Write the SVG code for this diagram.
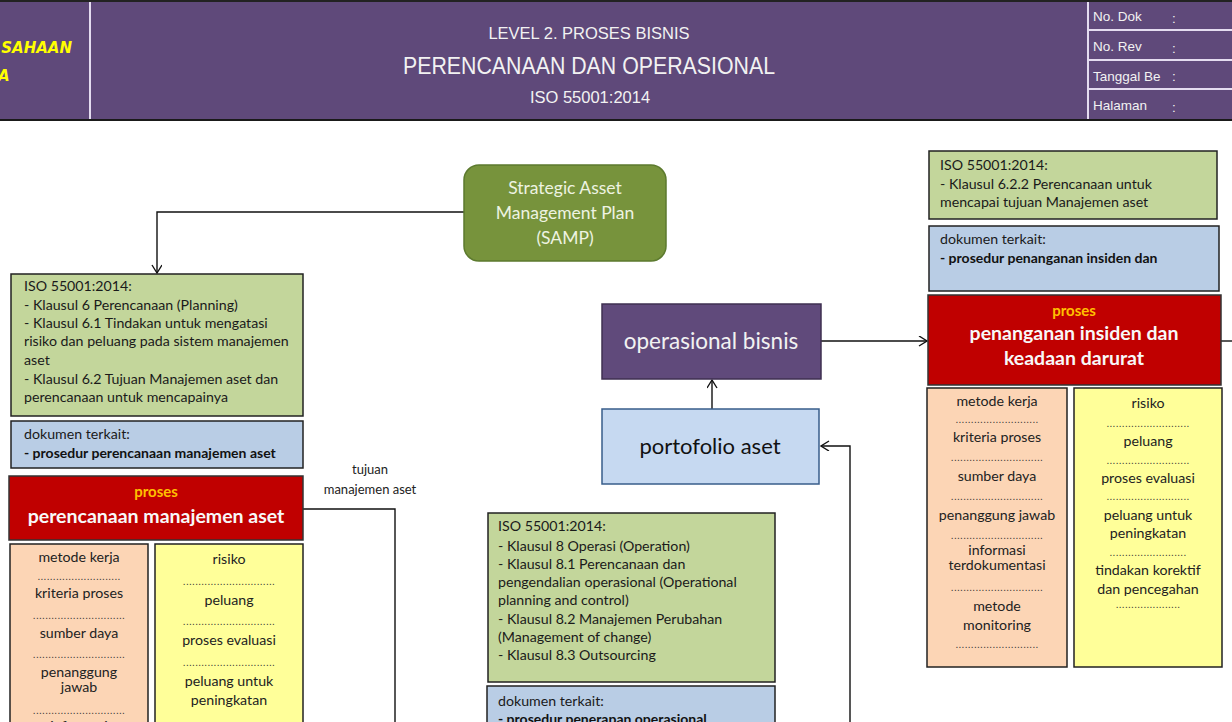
<svg xmlns="http://www.w3.org/2000/svg" width="1232" height="722" viewBox="0 0 1232 722">
<defs>
<marker id="arr" markerWidth="12" markerHeight="12" refX="9" refY="5" orient="auto" markerUnits="userSpaceOnUse">
<path d="M1,0 L9,5 L1,10" fill="none" stroke="#111" stroke-width="1.4"/>
</marker>
<style>
.hdr{font-family:"Liberation Sans",Arial,sans-serif;fill:#F2F2F2}
.t{font-family:Lato,"Liberation Sans",sans-serif;font-size:14.2px;fill:#1a1a1a}
.tb{font-family:Lato,"Liberation Sans",sans-serif;font-size:14px;font-weight:bold;fill:#111}
.c{font-family:Lato,"Liberation Sans",sans-serif;font-size:14.2px;fill:#222;text-anchor:middle}
.dots{font-family:"Liberation Sans",sans-serif;font-size:10px;fill:#333;text-anchor:middle;letter-spacing:0.3px}
.pr{font-family:Lato,"Liberation Sans",sans-serif;font-size:15px;font-weight:bold;fill:#FFC000;text-anchor:middle}
.pt{font-family:Lato,"Liberation Sans",sans-serif;font-size:19.5px;font-weight:bold;fill:#F8F8F8;text-anchor:middle}
.green{fill:#C3D69B;stroke:#222;stroke-width:1.5}
.blue{fill:#B9CDE5;stroke:#222;stroke-width:1.5}
.red{fill:#C00000;stroke:#333;stroke-width:1.5}
.peach{fill:#FCD5B5;stroke:#222;stroke-width:1.5}
.yel{fill:#FFFF99;stroke:#222;stroke-width:1.5}
.conn{fill:none;stroke:#111;stroke-width:1.4}
</style>
</defs>
<rect x="0" y="0" width="1232" height="722" fill="#FFFFFF"/>

<g id="header">
<rect x="0" y="0" width="1232" height="120" fill="#5F497A"/>
<line x1="0" y1="1" x2="1232" y2="1" stroke="#222" stroke-width="2"/>
<line x1="0" y1="120" x2="1232" y2="120" stroke="#1a1a1a" stroke-width="2"/>
<line x1="90" y1="2" x2="90" y2="119" stroke="#E4DCF0" stroke-width="2"/>
<line x1="1088" y1="2" x2="1088" y2="119" stroke="#E4DCF0" stroke-width="2"/>
<line x1="1088" y1="30" x2="1232" y2="30" stroke="#E4DCF0" stroke-width="2"/>
<line x1="1088" y1="60" x2="1232" y2="60" stroke="#E4DCF0" stroke-width="2"/>
<line x1="1088" y1="89" x2="1232" y2="89" stroke="#E4DCF0" stroke-width="2"/>
<text x="72" y="53" text-anchor="end" style="font-family:'DejaVu Sans',sans-serif;font-size:15px;font-weight:bold;font-style:italic;fill:#FFFF00">SAHAAN</text>
<text x="-2" y="81" style="font-family:'DejaVu Sans',sans-serif;font-size:15px;font-weight:bold;font-style:italic;fill:#FFFF00">A</text>
<text class="hdr" x="589" y="39" text-anchor="middle" font-size="16.5">LEVEL 2. PROSES BISNIS</text>
<text class="hdr" x="589" y="74" text-anchor="middle" font-size="23" textLength="372" lengthAdjust="spacingAndGlyphs">PERENCANAAN DAN OPERASIONAL</text>
<text class="hdr" x="590" y="103" text-anchor="middle" font-size="16.5">ISO 55001:2014</text>
<g class="hdr" font-size="13.5">
<text x="1093" y="21">No. Dok</text><text x="1172" y="23">:</text>
<text x="1093" y="51">No. Rev</text><text x="1172" y="53">:</text>
<text x="1093" y="81">Tanggal Be</text><text x="1172" y="81">:</text>
<text x="1093" y="110">Halaman</text><text x="1172" y="112">:</text>
</g>
</g>

<g id="connectors">
<path class="conn" d="M464,212 H157 V273" marker-end="url(#arr)"/>
<path class="conn" d="M712,409 V380" marker-end="url(#arr)"/>
<path class="conn" d="M821,341 H927" marker-end="url(#arr)"/>
<path class="conn" d="M1221,341 H1232"/>
<path class="conn" d="M303,509 H395 V722"/>
<path class="conn" d="M850,722 V446 H821" marker-end="url(#arr)"/>
</g>

<g id="samp">
<rect x="464" y="165" width="202" height="96" rx="15" fill="#77933C" stroke="#5C7A2E" stroke-width="1.5"/>
<g style="font-family:Lato,'Liberation Sans',sans-serif;font-size:17.5px;fill:#EEF3E2;text-anchor:middle">
<text x="565" y="194">Strategic Asset</text>
<text x="565" y="219">Management Plan</text>
<text x="565" y="244">(SAMP)</text>
</g>
</g>

<g id="operasional-bisnis">
<rect x="602" y="304" width="219" height="75" fill="#604A7B" stroke="#3F3151" stroke-width="1.5"/>
<text x="711" y="349" style="font-family:Lato,'Liberation Sans',sans-serif;font-size:22.5px;fill:#F2F2F2;text-anchor:middle">operasional bisnis</text>
</g>

<g id="portofolio-aset">
<rect x="602" y="409" width="217" height="75" fill="#C6D9F1" stroke="#385D8A" stroke-width="1.5"/>
<text x="710" y="454" style="font-family:Lato,'Liberation Sans',sans-serif;font-size:22px;fill:#111;text-anchor:middle">portofolio aset</text>
</g>

<g id="left-iso">
<rect class="green" x="11" y="274" width="292" height="142"/>
<text class="t" x="24" y="291">ISO 55001:2014:</text>
<text class="t" x="24" y="310">- Klausul 6 Perencanaan (Planning)</text>
<text class="t" x="24" y="328">- Klausul 6.1 Tindakan untuk mengatasi</text>
<text class="t" x="24" y="346">risiko dan peluang pada sistem manajemen</text>
<text class="t" x="24" y="365">aset</text>
<text class="t" x="24" y="384">- Klausul 6.2 Tujuan Manajemen aset dan</text>
<text class="t" x="24" y="402">perencanaan untuk mencapainya</text>
</g>

<g id="left-dok">
<rect class="blue" x="11" y="421" width="292" height="47"/>
<text class="t" x="24" y="439">dokumen terkait:</text>
<text class="tb" x="24" y="458">- prosedur perencanaan manajemen aset</text>
</g>

<g id="left-proses">
<rect class="red" x="9" y="476" width="294" height="64"/>
<text class="pr" x="156" y="497">proses</text>
<text class="pt" x="156" y="523">perencanaan manajemen aset</text>
</g>

<g id="left-label">
<text class="c" x="370" y="474" style="font-size:13px">tujuan</text>
<text class="c" x="370" y="494" style="font-size:13px">manajemen aset</text>
</g>

<g id="left-peach">
<rect class="peach" x="10" y="544" width="138" height="190"/>
<text class="c" x="79" y="562">metode kerja</text>
<text class="dots" x="79" y="580">...........................</text>
<text class="c" x="79" y="598">kriteria proses</text>
<text class="dots" x="79" y="619">..............................</text>
<text class="c" x="79" y="638">sumber daya</text>
<text class="dots" x="79" y="658">..............................</text>
<text class="c" x="79" y="677">penanggung</text>
<text class="c" x="79" y="692">jawab</text>
<text class="dots" x="79" y="714">..............................</text>
<text class="c" x="79" y="731">informasi</text>
</g>

<g id="left-yellow">
<rect class="yel" x="155" y="544" width="148" height="190"/>
<text class="c" x="229" y="564">risiko</text>
<text class="dots" x="229" y="585">..............................</text>
<text class="c" x="229" y="605">peluang</text>
<text class="dots" x="229" y="625">..............................</text>
<text class="c" x="229" y="645">proses evaluasi</text>
<text class="dots" x="229" y="666">..............................</text>
<text class="c" x="229" y="686">peluang untuk</text>
<text class="c" x="229" y="705">peningkatan</text>
</g>

<g id="mid-iso">
<rect class="green" x="488" y="513" width="287" height="169"/>
<text class="t" x="498" y="531">ISO 55001:2014:</text>
<text class="t" x="498" y="551">- Klausul 8 Operasi (Operation)</text>
<text class="t" x="498" y="569">- Klausul 8.1 Perencanaan dan</text>
<text class="t" x="498" y="587">pengendalian operasional (Operational</text>
<text class="t" x="498" y="605">planning and control)</text>
<text class="t" x="498" y="624">- Klausul 8.2 Manajemen Perubahan</text>
<text class="t" x="498" y="642">(Management of change)</text>
<text class="t" x="498" y="660">- Klausul 8.3 Outsourcing</text>
</g>

<g id="mid-dok">
<rect class="blue" x="487" y="686" width="288" height="50"/>
<text class="t" x="498" y="706">dokumen terkait:</text>
<text class="tb" x="498" y="724">- prosedur penerapan operasional</text>
</g>

<g id="right-iso">
<rect class="green" x="929" y="151" width="288" height="68"/>
<text class="t" x="940" y="170">ISO 55001:2014:</text>
<text class="t" x="940" y="189">- Klausul 6.2.2 Perencanaan untuk</text>
<text class="t" x="940" y="207">mencapai tujuan Manajemen aset</text>
</g>

<g id="right-dok">
<rect class="blue" x="929" y="226" width="290" height="65"/>
<text class="t" x="940" y="244">dokumen terkait:</text>
<text class="tb" x="940" y="263">- prosedur penanganan insiden dan</text>
</g>

<g id="right-proses">
<rect class="red" x="928" y="295" width="293" height="90"/>
<text class="pr" x="1074" y="316">proses</text>
<text class="pt" x="1074" y="340">penanganan insiden dan</text>
<text class="pt" x="1074" y="365">keadaan darurat</text>
</g>

<g id="right-peach">
<rect class="peach" x="927" y="388" width="140" height="279"/>
<text class="c" x="997" y="406">metode kerja</text>
<text class="dots" x="997" y="423">...........................</text>
<text class="c" x="997" y="442">kriteria proses</text>
<text class="dots" x="997" y="461">..............................</text>
<text class="c" x="997" y="481">sumber daya</text>
<text class="dots" x="997" y="500">..............................</text>
<text class="c" x="997" y="520">penanggung jawab</text>
<text class="dots" x="997" y="539">..............................</text>
<text class="c" x="997" y="555">informasi</text>
<text class="c" x="997" y="570">terdokumentasi</text>
<text class="dots" x="997" y="591">..............................</text>
<text class="c" x="997" y="611">metode</text>
<text class="c" x="997" y="630">monitoring</text>
<text class="dots" x="997" y="648">...........................</text>
</g>

<g id="right-yellow">
<rect class="yel" x="1074" y="388" width="148" height="279"/>
<text class="c" x="1148" y="408">risiko</text>
<text class="dots" x="1148" y="427">...........................</text>
<text class="c" x="1148" y="446">peluang</text>
<text class="dots" x="1148" y="464">...........................</text>
<text class="c" x="1148" y="483">proses evaluasi</text>
<text class="dots" x="1148" y="500">...........................</text>
<text class="c" x="1148" y="520">peluang untuk</text>
<text class="c" x="1148" y="538">peningkatan</text>
<text class="dots" x="1148" y="556">.........................</text>
<text class="c" x="1148" y="575">tindakan korektif</text>
<text class="c" x="1148" y="594">dan pencegahan</text>
<text class="dots" x="1148" y="608">.....................</text>
</g>
</svg>
